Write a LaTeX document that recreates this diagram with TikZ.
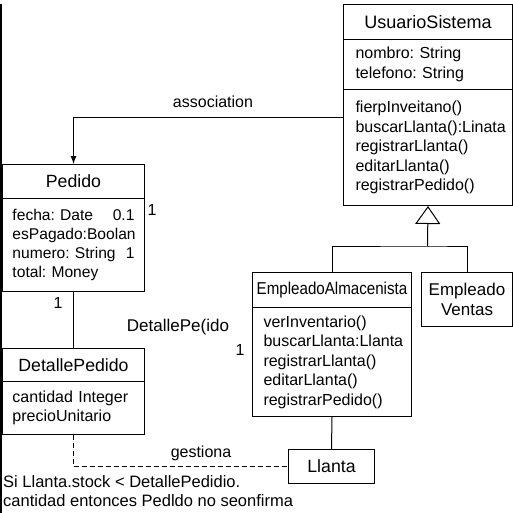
\documentclass[tikz,border=0pt]{standalone}
\usepackage{fontspec}
\setmainfont{Liberation Sans}
\newfontfamily\narrowfont[FakeStretch=0.88]{Liberation Sans}
\usetikzlibrary{arrows.meta}
\hfuzz=20pt
\frenchspacing

\begin{document}
\begin{tikzpicture}[x=1pt, y=-1pt,
    cls/.style={draw, line width=1pt, anchor=north west, inner xsep=11pt, inner ysep=2pt,
        align=left, font=\fontsize{16}{19.5}\selectfont},
    ttl/.style={draw, line width=1pt, anchor=north west, inner sep=0pt,
        align=center, font=\fontsize{17.7}{19.5}\selectfont},
    lbl/.style={inner sep=0pt, font=\fontsize{16}{19.5}\selectfont},
    conn/.style={line width=1pt}]

    \useasboundingbox (0,0) rectangle (512,513);

    % Frame edge
    \draw[line width=1.5pt] (1,4) -- (1,513);

    % UsuarioSistema
    \node[ttl, minimum width=169pt, minimum height=35pt, font=\fontsize{18}{20}\selectfont] (usT) at (343,4) {UsuarioSistema};
    \node[cls, inner xsep=12pt, text width=145pt, minimum height=50pt] (usA) at (343,39) {nombro: String\\telefono: String};
    \node[cls, inner xsep=12pt, text width=145pt, minimum height=116pt] (usM) at (343,89)
        {fierpInveitano()\\buscarLlanta():Linata\\registrarLlanta()\\editarLlanta()\\registrarPedido()};

    % Pedido
    \node[ttl, minimum width=142pt, minimum height=34pt] (pedT) at (2,164) {Pedido};
    \node[cls, inner xsep=10pt, text width=122pt, minimum height=93pt, font=\fontsize{15.6}{19.3}\selectfont] (pedA) at (2,198)
        {fecha: Date\hskip0pt plus1filll 0.1\\esPagado:Boolan\\numero: String\hskip0pt plus1filll 1\\total: Money};

    % DetallePedido
    \node[ttl, minimum width=142pt, minimum height=33pt] (dpT) at (2,348) {DetallePedido};
    \node[cls, inner xsep=10pt, text width=122pt, minimum height=53pt] (dpA) at (2,381) {cantidad Integer\\precioUnitario};

    % EmpleadoAlmacenista
    \node[ttl, minimum width=159pt, minimum height=35pt, font=\narrowfont\fontsize{17.2}{19}\selectfont] (eaT) at (252,272) {EmpleadoAlmacenista};
    \node[cls, text width=137pt, minimum height=109pt] (eaM) at (252,307)
        {verInventario()\\buscarLlanta:Llanta\\registrarLlanta()\\editarLlanta()\\registrarPedido()};

    % EmpleadoVentas
    \node[ttl, minimum width=91pt, minimum height=54pt, font=\fontsize{17}{19.5}\selectfont] (evT) at (421,272) {Empleado\\Ventas};

    % Llanta
    \node[ttl, minimum width=86pt, minimum height=34pt] (llT) at (288,449) {Llanta};

    % Connectors
    \coordinate (ascpt) at (343,118);
    \draw[conn, -{Latex[length=8pt,width=6pt]}] (ascpt) -| (pedT.north);
    \draw[conn] (pedA.south) -- (dpT.north);
    \coordinate (gen) at (427.5,246);
    \draw[conn] (eaT.north) |- (gen) -| (evT.north);
    \draw[conn, -{Triangle[open, length=18pt, width=25pt]}] (gen) -- (usM.south);
    \draw[conn] (eaM.south) -- (llT.north);
    \draw[conn, dash pattern=on 5pt off 3pt] (dpA.south) |- (llT.west);

    % Labels
    \node[lbl] (ascLbl) at (213,102) {association};
    \node[lbl] (multPed) at (152,210) {1};
    \node[lbl] (multDp) at (58,303) {1};
    \node[lbl, font=\fontsize{17}{19.5}\selectfont] (dpLbl) at (178,327) {DetallePe(ido};
    \node[lbl] (multEa) at (240,350) {1};
    \node[lbl] (gesLbl) at (201,453) {gestiona};
    \node[lbl, anchor=west, align=left, font=\fontsize{16.5}{19}\selectfont] (note) at (3,491)
        {Si Llanta.stock < DetallePedidio.\\cantidad entonces Pedldo no seonfirma};
\end{tikzpicture}
\end{document}
